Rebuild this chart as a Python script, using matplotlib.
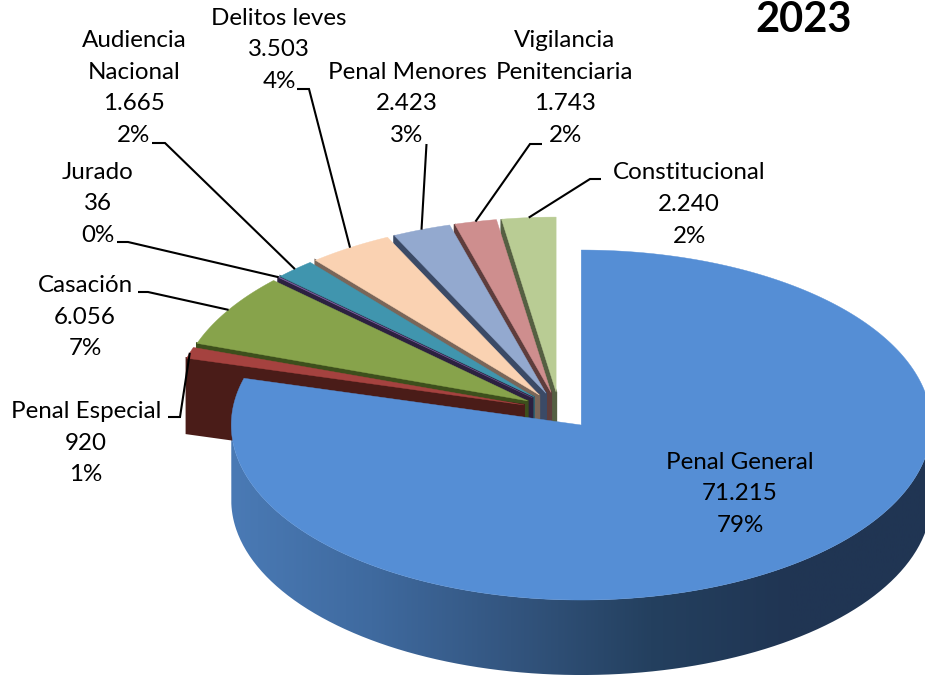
import numpy as np
import matplotlib
matplotlib.use('Agg')
import matplotlib.pyplot as plt
from matplotlib.colors import LinearSegmentedColormap
from matplotlib.patches import PathPatch, Polygon
from matplotlib.path import Path

plt.rcParams['font.family'] = ['Lato', 'DejaVu Sans']

# Data, in pie order (clockwise from the top)
names = ['Penal General', 'Penal Especial', 'Casación', 'Jurado', 'Audiencia\nNacional',
         'Delitos leves', 'Penal Menores', 'Vigilancia\nPenitenciaria', 'Constitucional']
values = [71215, 920, 6056, 36, 1665, 3503, 2423, 1743, 2240]

top_colors = ['#558ED5', '#A5423F', '#87A34B', '#7B5FA0', '#4095AE',
              '#FAD2B2', '#93A9CF', '#CE8E8E', '#B9CC94']
side_colors = ['#33557F', '#4A1C18', '#3D4F1C', '#2C2140', '#2F5F6E',
               '#7A6659', '#3B4A66', '#5E3D3C', '#555F42']

# label centres and leader elbows (pixels)
label_pos = [(740, 494), (86, 443), (85, 317), (98, 204), (134, 88),
             (279, 50), (407, 104), (565, 88), (689, 204.5)]
leaders = [None, [(168, 417), (180, 417)], [(138, 292), (148, 292)], [(117, 242), (128, 242)],
           [(152, 143), (165, 143)], [(297, 89), (309, 89)], [(426.5, 144)],
           [(542, 144), (530, 144)], [(601, 179), (590, 179)]]

# pie geometry
cx, cy = 559, 410.4
rx, ry = 350, 175
depth = 75
explode = 0.105

fig = plt.figure(figsize=(9.25, 6.78), dpi=100)
ax = fig.add_axes([0, 0, 1, 1])

total = sum(values)
ends = np.cumsum(values) / total * 2 * np.pi
starts = np.concatenate([[0], ends[:-1]])


def apex(mid):
    return cx + explode * rx * np.sin(mid), cy - explode * ry * np.cos(mid)


def rim(x0, y0, t):
    return x0 + rx * np.sin(t), y0 - ry * np.cos(t)


# back slices first, so each one covers the side of the one behind it
for i in range(len(values) - 1, -1, -1):
    t0, t1 = starts[i], ends[i]
    x0, y0 = apex((t0 + t1) / 2)
    ts = np.linspace(t0, t1, max(int(np.degrees(t1 - t0) * 2), 4))
    xs, ys = rim(x0, y0, ts)

    if i == 0:
        # outer wall of the big slice with its horizontal shading
        wall_t = np.linspace(np.pi / 2, 3 * np.pi / 2, 300)
        wx, wy = rim(x0, y0, wall_t)
        verts = list(zip(wx, wy)) + list(zip(wx[::-1], wy[::-1] + depth))
        shade = LinearSegmentedColormap.from_list('wall', ['#203553', '#203553', '#24405F',
                                                           '#33557F', '#3F6A9F', '#4A7AB5'])
        img = ax.imshow(np.linspace(0, 1, 256)[None, :], cmap=shade, aspect='auto',
                        extent=(x0 + rx, x0 - rx, y0 + ry + depth, y0 - ry), zorder=2)
        clip = PathPatch(Path(verts + [verts[0]]), transform=ax.transData, fc='none', ec='none')
        ax.add_patch(clip)
        img.set_clip_path(clip)
    else:
        # radial face at the start of the slice
        ex, ey = rim(x0, y0, t0)
        face = [(x0, y0), (ex, ey), (ex, ey + depth), (x0, y0 + depth)]
        ax.add_patch(Polygon(face, closed=True, fc=side_colors[i], ec=side_colors[i], lw=1.5, zorder=3))

    top = [(x0, y0)] + list(zip(xs, ys))
    ax.add_patch(Polygon(top, closed=True, fc=top_colors[i], ec=top_colors[i], lw=0.3, zorder=3))

# labels and leader lines
for i, name in enumerate(names):
    pct = round(values[i] / total * 100)
    val = f'{values[i]:,}'.replace(',', '.')
    x, y = label_pos[i]
    ax.text(x, y, f'{name}\n{val}\n{pct}%', ha='center', va='center', ma='center',
            fontsize=17.4, color='black', linespacing=1.63, zorder=6)
    if leaders[i]:
        mid = (starts[i] + ends[i]) / 2
        x0, y0 = apex(mid)
        pts = leaders[i] + [rim(x0, y0, mid)]
        ax.plot([p[0] for p in pts], [p[1] for p in pts], color='black', lw=1.5, zorder=5,
                solid_joinstyle='miter', solid_capstyle='butt')

ax.text(804, 20, '2023', ha='center', va='center', fontsize=30, fontweight='bold', color='black')

ax.set_xlim(0, 925)
ax.set_ylim(678, 0)
ax.axis('off')
fig.savefig('out.png', dpi=100)
